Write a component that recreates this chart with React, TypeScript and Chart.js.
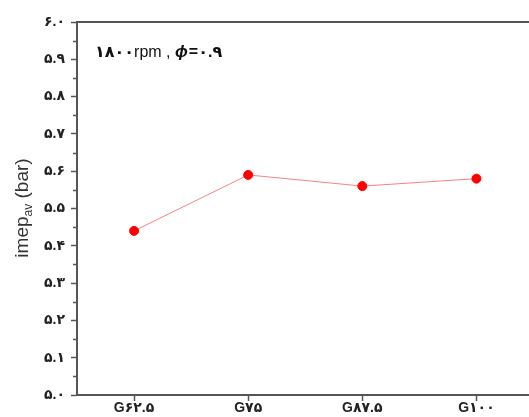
import React, { useEffect, useRef } from "react";
import { Chart, registerables } from "chart.js";

Chart.register(...registerables);

const categories = ["G۶۲.۵", "G۷۵", "G۸۷.۵", "G۱۰۰"];
const imepValues = [5.44, 5.59, 5.56, 5.58];
const yMin = 5.0;
const yMax = 6.0;
const persianDigits = ["۰", "۱", "۲", "۳", "۴", "۵", "۶", "۷", "۸", "۹"];
const annotationParts = ["۱۸۰۰", "rpm , ", "ϕ", "=", "۰.۹"];
const yTitleParts = ["imep", "av", " (bar)"];

const toPersian = (s: string) => s.replace(/[0-9]/g, (d) => persianDigits[Number(d)]);

const FONT = "'Liberation Sans', 'DejaVu Sans', Arial, sans-serif";

const decorPlugin = {
  id: "decor",
  afterDraw(chart: any) {
    const { ctx, chartArea } = chart;
    const y = chart.scales.y;
    ctx.save();
    // top frame line
    ctx.strokeStyle = "#555";
    ctx.lineWidth = 2;
    ctx.beginPath();
    ctx.moveTo(chartArea.left - 1, chartArea.top);
    ctx.lineTo(chartArea.right + 10, chartArea.top);
    ctx.stroke();
    // minor y ticks
    ctx.lineWidth = 1.5;
    for (let v = yMin + 0.05; v < yMax; v += 0.1) {
      const py = Math.round(y.getPixelForValue(v)) + 0.5;
      ctx.beginPath();
      ctx.moveTo(chartArea.left - 4, py);
      ctx.lineTo(chartArea.left, py);
      ctx.stroke();
    }
    // annotation
    ctx.fillStyle = "#111";
    ctx.textBaseline = "alphabetic";
    let x = 95;
    const by = 57;
    const fonts = [
      `bold 16px ${FONT}`,
      `16px ${FONT}`,
      `italic bold 17px ${FONT}`,
      `bold 16px ${FONT}`,
      `bold 16px ${FONT}`,
    ];
    annotationParts.forEach((p, i) => {
      ctx.font = fonts[i];
      ctx.fillText(p, x, by);
      x += ctx.measureText(p).width + (i === 2 ? 1 : 0);
    });
    // y title
    ctx.translate(28, 208);
    ctx.rotate(-Math.PI / 2);
    ctx.fillStyle = "#333";
    const big = `19px ${FONT}`;
    const small = `12px ${FONT}`;
    ctx.font = big;
    const w0 = ctx.measureText(yTitleParts[0]).width;
    ctx.font = small;
    const w1 = ctx.measureText(yTitleParts[1]).width;
    ctx.font = big;
    const w2 = ctx.measureText(yTitleParts[2]).width;
    let tx = -(w0 + w1 + w2) / 2;
    ctx.fillText(yTitleParts[0], tx, 0);
    tx += w0;
    ctx.font = small;
    ctx.fillText(yTitleParts[1], tx, 4);
    tx += w1;
    ctx.font = big;
    ctx.fillText(yTitleParts[2], tx, 0);
    ctx.restore();
  },
};

export default function App() {
  const ref = useRef<HTMLCanvasElement>(null);
  useEffect(() => {
    if (!ref.current) return;
    const chart = new Chart(ref.current, {
      type: "line",
      data: {
        labels: categories,
        datasets: [
          {
            data: imepValues,
            borderColor: "rgba(240,90,90,0.75)",
            borderWidth: 1,
            pointBackgroundColor: "#ff0000",
            pointBorderColor: "#ff0000",
            pointRadius: 4.5,
            tension: 0,
          },
        ],
      },
      options: {
        animation: false,
        responsive: false,
        devicePixelRatio: 1,
        layout: { padding: { top: 22, left: 0, right: 0, bottom: 0 } },
        plugins: { legend: { display: false }, tooltip: { enabled: false } },
        scales: {
          x: {
            offset: true,
            grid: {
              offset: false,
              drawOnChartArea: false,
              drawTicks: true,
              tickLength: 6,
              tickColor: "#555",
              tickWidth: 1.5,
            },
            border: { color: "#555", width: 2 },
            ticks: {
              color: "#222",
              padding: 0,
              font: { family: FONT, size: 14, weight: "bold", lineHeight: 1 },
              maxRotation: 0,
            },
            afterFit: (s: any) => {
              s.height = 22;
            },
          },
          y: {
            min: yMin,
            max: yMax,
            grid: {
              drawOnChartArea: false,
              drawTicks: true,
              tickLength: 6,
              tickColor: "#555",
              tickWidth: 1.5,
            },
            border: { color: "#555", width: 2 },
            ticks: {
              stepSize: 0.1,
              color: "#222",
              padding: 6,
              font: { family: FONT, size: 14, weight: "bold" },
              callback: (v: any) => toPersian(Number(v).toFixed(1)),
            },
            afterFit: (s: any) => {
              s.width = 77;
            },
          },
        },
      },
      plugins: [decorPlugin],
    });
    return () => chart.destroy();
  }, []);
  return (
    <div
      style={{
        position: "fixed",
        left: 0,
        top: 0,
        width: 529,
        height: 417,
        overflow: "hidden",
        background: "#fff",
      }}
    >
      <canvas ref={ref} width={539} height={417} style={{ display: "block" }} />
    </div>
  );
}
